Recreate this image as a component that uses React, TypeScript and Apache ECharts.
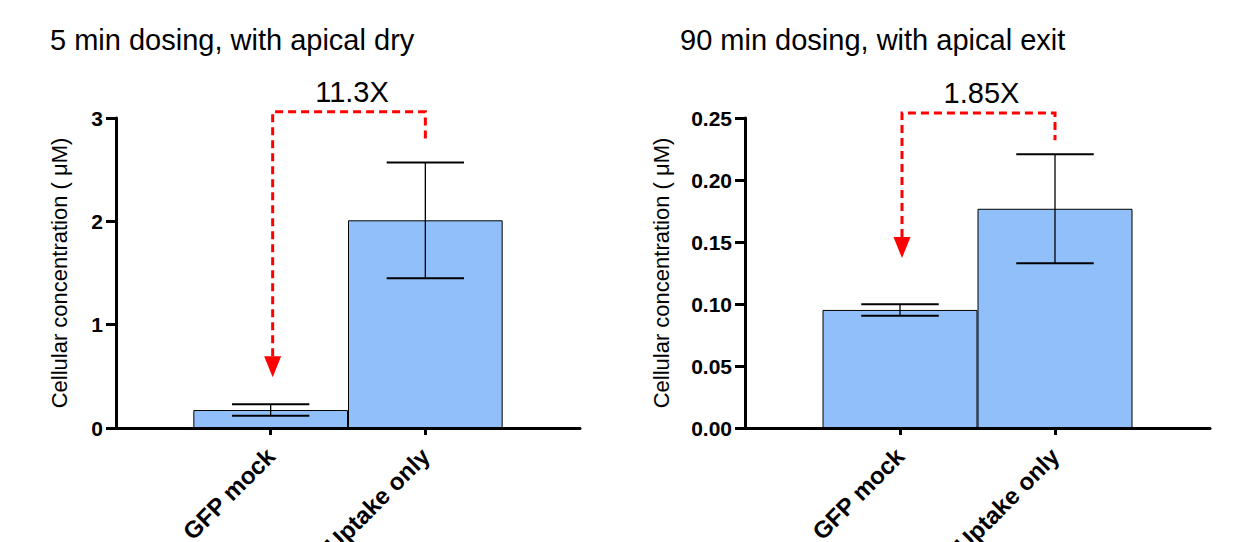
import React, { useEffect, useRef } from "react";
import * as echarts from "echarts";

const categories = ["", "GFP mock", "Uptake only", ""];

// Panel A: 5 min dosing
const leftMeans = [0.174, 2.01];
const leftErr = [0.056, 0.56];
const leftYTicks = { min: 0, max: 3, interval: 1 };
const leftFold = "11.3X";
const leftBracket = { top: 3.06, rightEnd: 2.8, arrowTip: 0.49 };

// Panel B: 90 min dosing
const rightMeans = [0.0952, 0.1768];
const rightErr = [0.0046, 0.044];
const rightYTicks = { min: 0, max: 0.25, interval: 0.05 };
const rightFold = "1.85X";
const rightBracket = { top: 0.254, rightEnd: 0.232, arrowTip: 0.137 };

const subtitles = ["5 min dosing, with apical dry", "90 min dosing, with apical exit"];
const yName = "Cellular concentration ( \u03bcM)";

const FONT = "'Liberation Sans', Arial, sans-serif";
const BAR = "#90BFF9";
const RED = "#FF0000";

export default function App() {
  const ref = useRef<HTMLDivElement>(null);
  useEffect(() => {
    document.body.style.margin = "0";
    const chart = echarts.init(ref.current!, null, { renderer: "svg" });

    const xAxis = (gridIndex: number) => ({
      type: "category",
      gridIndex,
      data: categories,
      boundaryGap: false,
      axisLine: { lineStyle: { color: "#000", width: 3 } },
      axisTick: {
        show: true,
        length: 7,
        lineStyle: { color: "#000", width: 3 },
        interval: (i: number) => i === 1 || i === 2,
      },
      axisLabel: {
        interval: (i: number) => i === 1 || i === 2,
        rotate: 45,
        margin: 24,
        fontFamily: FONT,
        fontWeight: "bold",
        fontSize: 24,
        color: "#000",
      },
      splitLine: { show: false },
    });

    const yAxis = (gridIndex: number, t: any, gap: number, dec: number) => ({
      type: "value",
      gridIndex,
      min: t.min,
      max: t.max,
      interval: t.interval,
      name: yName,
      nameLocation: "middle",
      nameGap: gap,
      nameTextStyle: { fontFamily: FONT, fontSize: 22, color: "#000" },
      axisLine: { show: true, lineStyle: { color: "#000", width: 3 } },
      axisTick: { show: true, length: 10, lineStyle: { color: "#000", width: 3 } },
      axisLabel: {
        margin: 13,
        fontFamily: FONT,
        fontWeight: "bold",
        fontSize: 21,
        color: "#000",
        formatter: (v: number) => v.toFixed(dec),
      },
      splitLine: { show: false },
    });

    const barSeries = (idx: number, means: number[]) => ({
      type: "bar",
      xAxisIndex: idx,
      yAxisIndex: idx,
      barWidth: "100%",
      data: ["-", means[0], means[1], "-"],
      itemStyle: { color: BAR, borderColor: "#000", borderWidth: 1 },
      z: 2,
    });

    const errSeries = (idx: number, means: number[], errs: number[]) => ({
      type: "custom",
      xAxisIndex: idx,
      yAxisIndex: idx,
      z: 3,
      clip: false,
      data: means.map((m, i) => [i + 1, m, errs[i]]),
      encode: { x: 0, y: 1 },
      renderItem: (params: any, api: any) => {
        const x = api.value(0);
        const m = api.value(1);
        const e = api.value(2);
        const top = api.coord([x, m + e]);
        const bot = api.coord([x, m - e]);
        const half = api.size([1, 0])[0] / 4;
        const st = { stroke: "#000", lineWidth: 2 };
        return {
          type: "group",
          children: [
            { type: "line", shape: { x1: top[0], y1: top[1], x2: bot[0], y2: bot[1] }, style: { stroke: "#000", lineWidth: 1.3 } },
            { type: "line", shape: { x1: top[0] - half, y1: top[1], x2: top[0] + half, y2: top[1] }, style: st },
            { type: "line", shape: { x1: bot[0] - half, y1: bot[1], x2: bot[0] + half, y2: bot[1] }, style: st },
          ],
        };
      },
    });

    const bracketSeries = (idx: number, b: any, label: string) => ({
      type: "custom",
      xAxisIndex: idx,
      yAxisIndex: idx,
      z: 4,
      clip: false,
      data: [[1, b.top]],
      encode: { x: 0, y: 1 },
      renderItem: (params: any, api: any) => {
        const pL = api.coord([1, b.top]);
        const pR = api.coord([2, b.top]);
        const pRe = api.coord([2, b.rightEnd]);
        const pTip = api.coord([1, b.arrowTip]);
        const headLen = 21;
        const headHalf = 8.5;
        const dash = { stroke: RED, lineWidth: 3, lineDash: [8, 5], fill: null };
        return {
          type: "group",
          children: [
            {
              type: "polyline",
              shape: { points: [[pL[0] + 2, pTip[1] - headLen], [pL[0] + 2, pL[1]], [pR[0], pR[1]], [pRe[0], pRe[1]]] },
              style: dash,
            },
            {
              type: "polygon",
              shape: { points: [[pL[0] + 2 - headHalf, pTip[1] - headLen], [pL[0] + 2 + headHalf, pTip[1] - headLen], [pL[0] + 2, pTip[1]]] },
              style: { fill: RED },
            },
            {
              type: "text",
              style: {
                text: label,
                x: (pL[0] + pR[0]) / 2 + 4,
                y: pL[1] - 20,
                align: "center",
                verticalAlign: "middle",
                font: `29px ${FONT}`,
                fill: "#000",
              },
            },
          ],
        };
      },
    });

    chart.setOption({
      animation: false,
      backgroundColor: "#fff",
      grid: [
        { left: 116, top: 118, width: 464, height: 310, outerBoundsMode: "none", containLabel: false },
        { left: 745, top: 118, width: 465, height: 310, outerBoundsMode: "none", containLabel: false },
      ],
      xAxis: [xAxis(0), xAxis(1)],
      yAxis: [yAxis(0, leftYTicks, 46, 0), yAxis(1, rightYTicks, 73, 2)],
      graphic: [
        { type: "text", left: 50, top: 25, style: { text: subtitles[0], font: `29px ${FONT}`, fill: "#000" } },
        { type: "text", left: 680, top: 25, style: { text: subtitles[1], font: `29px ${FONT}`, fill: "#000" } },
      ],
      series: [
        barSeries(0, leftMeans),
        errSeries(0, leftMeans, leftErr),
        bracketSeries(0, leftBracket, leftFold),
        barSeries(1, rightMeans),
        errSeries(1, rightMeans, rightErr),
        bracketSeries(1, rightBracket, rightFold),
      ],
    });
    return () => chart.dispose();
  }, []);
  return <div ref={ref} style={{ position: "absolute", left: 0, top: 0, width: 1244, height: 542 }} />;
}
